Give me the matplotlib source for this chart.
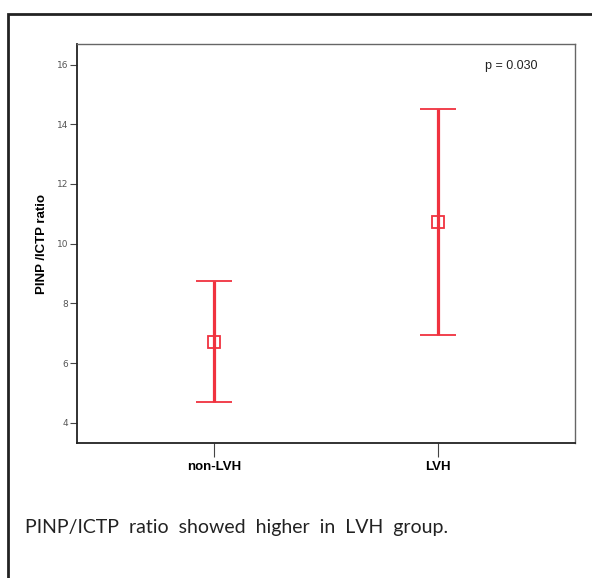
import matplotlib.pyplot as plt
from matplotlib.patches import Rectangle

groups = ['non-LVH', 'LVH']
means = [6.71, 10.71]
lower = [4.69, 6.93]
upper = [8.75, 14.51]
yticks = [4, 6, 8, 10, 12, 14, 16]

red = '#f0323f'

fig = plt.figure(figsize=(5.92, 5.78), dpi=100)
fig.patch.set_facecolor('white')

# outer frame (runs off right and bottom edges)
fig.patches.append(Rectangle((8 / 592, -0.1), 1.2, 1 - 14 / 578 + 0.1,
                             transform=fig.transFigure, fill=False,
                             edgecolor='#222222', linewidth=2))

ax = fig.add_axes([77 / 592, 1 - 443 / 578, 498 / 592, 399 / 578])
x = list(range(len(groups)))
err = [[m - l for m, l in zip(means, lower)], [u - m for m, u in zip(means, upper)]]
ax.errorbar(x, means, yerr=err, fmt='s', color=red, ecolor=red,
            elinewidth=2.3, capsize=13, capthick=3,
            markersize=9, markerfacecolor='none', markeredgewidth=1.3)

ax.set_xlim(-0.611, 1.611)
ax.set_ylim(3.32, 16.69)
ax.set_yticks(yticks)
ax.set_yticklabels([str(t) for t in yticks])
ax.set_xticks(x)
ax.set_xticklabels(groups, fontweight='bold', fontsize=9.5, family='Liberation Sans')
ax.tick_params(axis='y', direction='out', length=5, width=0.8, colors='#444444',
               labelsize=6.5, labelcolor='#555555', pad=1.5)
ax.tick_params(axis='x', direction='out', length=10, width=0.8, colors='#444444',
               labelcolor='black', pad=3)
ax.set_ylabel('PINP /ICTP ratio', fontweight='bold', fontsize=9.5,
              family='Liberation Sans', labelpad=6)
for side in ['left', 'bottom']:
    ax.spines[side].set_color('#222222')
    ax.spines[side].set_linewidth(1.3)
for side in ['top', 'right']:
    ax.spines[side].set_color('#666666')
    ax.spines[side].set_linewidth(1.0)

ax.text(0.82, 0.945, 'p = 0.030', transform=ax.transAxes, fontsize=9,
        color='#222222', family='Liberation Sans', va='center', ha='left')

fig.text(25 / 592, 1 - 527 / 578, 'PINP/ICTP  ratio  showed  higher  in  LVH  group.',
         fontsize=14, family='Lato', va='center', ha='left', color='#222222')

fig.savefig('out.png', dpi=100)
